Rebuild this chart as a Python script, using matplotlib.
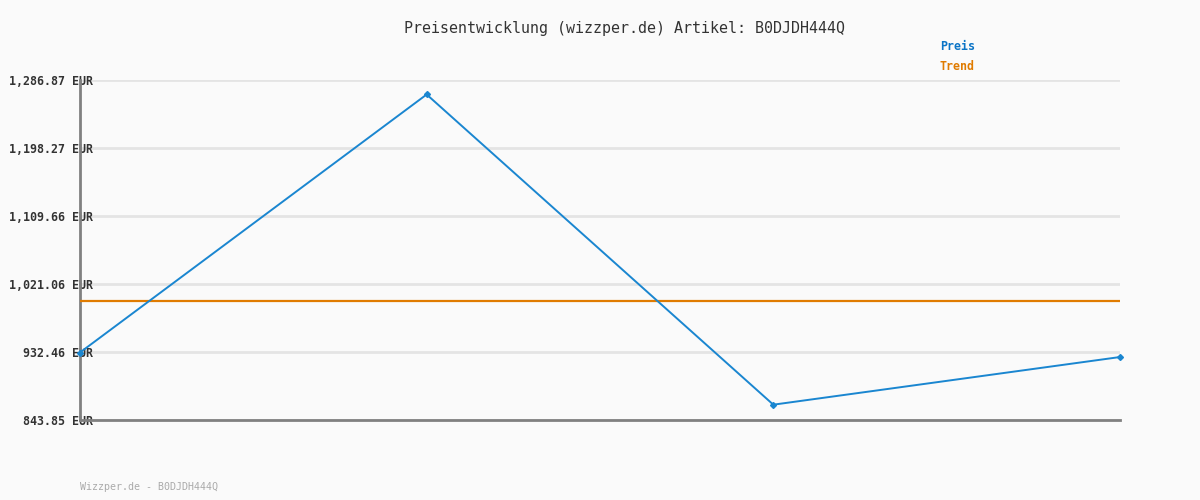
import matplotlib
matplotlib.use("Agg")
import matplotlib.pyplot as plt

# Data
x_idx = [0, 1, 2, 3]
prices = [931.8, 1268.0, 863.8, 925.9]
trend = [998.9, 998.9]
yticks = [843.85, 932.46, 1021.06, 1109.66, 1198.27, 1286.87]
ytick_labels = ["843.85 EUR", "932.46 EUR", "1,021.06 EUR", "1,109.66 EUR", "1,198.27 EUR", "1,286.87 EUR"]
title = "Preisentwicklung (wizzper.de) Artikel: B0DJDH444Q"
footer = "Wizzper.de - B0DJDH444Q"

W, H = 1200, 500
fig = plt.figure(figsize=(W / 100, H / 100), dpi=100, facecolor="#fafafa")
ax = fig.add_axes([80 / W, 80 / H, 1040 / W, 340 / H], facecolor="#fafafa")

mono = "DejaVu Sans Mono"
blue = "#1a86d0"
orange = "#e07b00"

ax.set_xlim(0, 3)
ax.set_ylim(yticks[0], yticks[-1])
ax.set_yticks(yticks)
ax.set_yticklabels(ytick_labels, fontfamily=mono, fontweight="bold", fontsize=8.4, color="#333333")
ax.tick_params(axis="y", length=0, pad=-9.5)
ax.set_xticks([])
ax.grid(axis="y", color="#e4e4e4", linewidth=2)
ax.set_axisbelow(True)
for s in ["top", "right"]:
    ax.spines[s].set_visible(False)
for s in ["left", "bottom"]:
    ax.spines[s].set_color("#808080")
    ax.spines[s].set_linewidth(2)

ax.plot([0, 3], trend, color=orange, linewidth=1.6, zorder=3)
ax.plot(x_idx, prices, color=blue, linewidth=1.4, marker="D", markersize=3, clip_on=False, zorder=4)

fig.text(624 / W, 1 - 28 / H, title, ha="center", va="center", fontfamily=mono, fontsize=10.8, color="#333333")
fig.text(940 / W, 1 - 47 / H, "Preis", ha="left", va="center", fontfamily=mono, fontweight="bold", fontsize=8.4, color="#0b74c6")
fig.text(940 / W, 1 - 67 / H, "Trend", ha="left", va="center", fontfamily=mono, fontweight="bold", fontsize=8.4, color=orange)
fig.text(80 / W, 1 - 487 / H, footer, ha="left", va="center", fontfamily=mono, fontsize=7.2, color="#aaaaaa")

fig.savefig("out.png", dpi=100, facecolor=fig.get_facecolor())
